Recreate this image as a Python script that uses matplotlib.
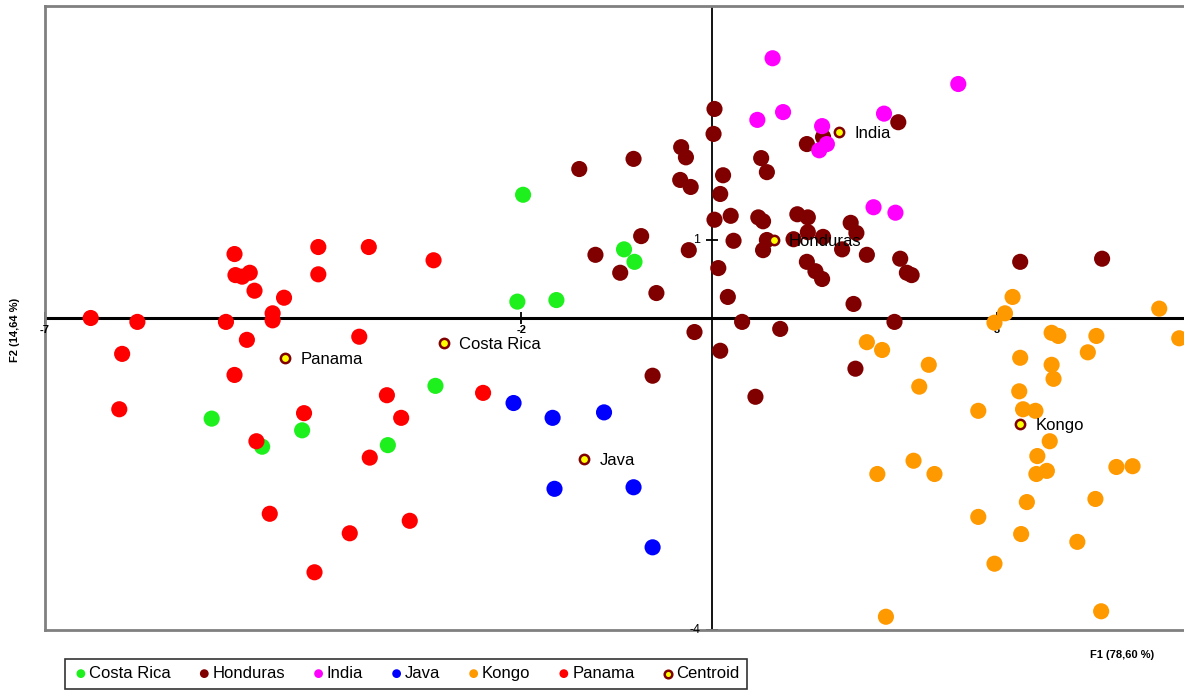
import numpy as np
import matplotlib
matplotlib.use("Agg")
import matplotlib.pyplot as plt

plt.rcParams['font.family'] = ['Liberation Sans', 'DejaVu Sans']

# observations per group (F1, F2)
costa_rica_x = [-5.25, -4.72, -4.30, -3.40, -2.90, -1.98, -2.04, -1.63, -0.92, -0.81]
costa_rica_y = [-1.29, -1.65, -1.44, -1.63, -0.87, 1.58, 0.21, 0.23, 0.88, 0.72]

honduras_x = [-1.39, -0.82, -0.32, -0.27, -0.33, -0.22, 0.12, 0.09, 0.20, 0.03,
              -0.74, 0.23, -1.22, -0.24, -0.96, 0.07, -0.58, 0.17, 0.32, -0.18,
              0.09, -0.62, 0.03, 0.02, 0.52, 0.58, 1.17, 1.00, 1.96, 0.49,
              0.54, 0.90, 1.01, 1.46, 1.52, 1.01, 1.17, 0.86, 0.58, 0.54,
              1.37, 1.63, 1.98, 2.05, 2.10, 1.00, 1.09, 1.16, 1.49, 1.92,
              0.72, 1.51, 0.46, 3.24, 4.10]
honduras_y = [1.91, 2.04, 2.19, 2.06, 1.77, 1.68, 1.83, 1.59, 1.31, 1.26,
              1.05, 0.99, 0.81, 0.87, 0.58, 0.64, 0.32, 0.27, -0.05, -0.18,
              -0.42, -0.74, 2.68, 2.36, 2.05, 1.87, 2.32, 2.23, 2.51, 1.29,
              1.24, 1.33, 1.29, 1.22, 1.09, 1.10, 1.04, 1.01, 1.00, 0.87,
              0.88, 0.81, 0.76, 0.58, 0.55, 0.72, 0.60, 0.50, 0.18, -0.05,
              -0.14, -0.65, -1.01, 0.72, 0.76]

india_x = [0.64, 2.59, 0.75, 0.48, 1.81, 1.16, 1.21, 1.13, 1.70, 1.93]
india_y = [3.33, 3.00, 2.64, 2.54, 2.62, 2.46, 2.23, 2.15, 1.42, 1.35]

java_x = [-2.08, -1.67, -1.13, -1.65, -0.82, -0.62]
java_y = [-1.09, -1.28, -1.21, -2.19, -2.17, -2.94]

kongo_x = [3.16, 4.70, 3.08, 2.97, 1.63, 1.79, 3.57, 3.64, 4.04, 4.91,
           3.24, 3.57, 3.95, 2.28, 3.59, 2.18, 3.23, 3.27, 3.40, 2.80,
           3.55, 3.42, 2.12, 1.74, 2.34, 3.41, 3.52, 4.25, 4.42, 3.31,
           4.03, 2.80, 3.25, 3.84, 2.97, 4.09, 1.83]
kongo_y = [0.27, 0.12, 0.06, -0.06, -0.31, -0.41, -0.19, -0.23, -0.23, -0.26,
           -0.51, -0.60, -0.44, -0.60, -0.78, -0.88, -0.94, -1.17, -1.19, -1.19,
           -1.58, -1.77, -1.83, -2.00, -2.00, -2.00, -1.96, -1.91, -1.90, -2.36,
           -2.32, -2.55, -2.77, -2.87, -3.15, -3.76, -3.83]

panama_x = [-5.01, -4.13, -3.60, -2.92, -5.00, -4.93, -4.85, -4.13, -4.80, -4.49,
            -6.52, -6.03, -5.10, -4.61, -4.61, -3.70, -4.88, -6.19, -5.01, -6.22,
            -4.28, -3.41, -3.26, -4.78, -3.59, -4.64, -3.80, -3.17, -4.17, -2.40]
panama_y = [0.82, 0.91, 0.91, 0.74, 0.55, 0.53, 0.58, 0.56, 0.35, 0.26,
            0.00, -0.05, -0.05, 0.06, -0.03, -0.24, -0.28, -0.46, -0.73, -1.17,
            -1.22, -0.99, -1.28, -1.58, -1.79, -2.51, -2.76, -2.60, -3.26, -0.96]

centroid_names = ["Costa Rica", "Honduras", "India", "Java", "Kongo", "Panama"]
centroid_x = [-2.81, 0.65, 1.34, -1.34, 3.24, -4.48]
centroid_y = [-0.32, 1.00, 2.38, -1.81, -1.36, -0.51]

x_ticks = [-7, -2, 3]
y_ticks = [1, -4]

groups = [
    ("Costa Rica", costa_rica_x, costa_rica_y, "#1ef01e"),
    ("Honduras", honduras_x, honduras_y, "#800000"),
    ("India", india_x, india_y, "#ff00ff"),
    ("Java", java_x, java_y, "#0000ff"),
    ("Kongo", kongo_x, kongo_y, "#ff9900"),
    ("Panama", panama_x, panama_y, "#ff0000"),
]

fig = plt.figure(figsize=(11.84, 6.92), dpi=100)
ax = fig.add_axes([45 / 1184, 62 / 692, 1139 / 1184, 624 / 692])
ax.set_xlim(-7, 4.96)
ax.set_ylim(-4, 4)

for s in ["left", "top", "bottom"]:
    ax.spines[s].set_color("#808080")
    ax.spines[s].set_linewidth(2)
ax.spines["right"].set_visible(False)
ax.set_xticks([])
ax.set_yticks([])

ax.axhline(0, color="black", lw=2.2, zorder=1)
ax.axvline(0, color="black", lw=1.3, zorder=1)

# ticks sit on the zero lines
ax.plot(x_ticks, [0] * len(x_ticks), ls="none", marker="|", ms=8, mew=1.3,
        color="black", clip_on=False, zorder=2)
ax.plot([0] * len(y_ticks), y_ticks, ls="none", marker="_", ms=9, mew=1.3,
        color="black", clip_on=False, zorder=2)
for t in x_ticks:
    ax.annotate(str(t), (t, 0), xytext=(0, -5), textcoords="offset points",
                ha="center", va="top", fontsize=8, fontweight="bold")
for t in y_ticks:
    ax.annotate(str(t), (0, t), xytext=(-8, 0), textcoords="offset points",
                ha="right", va="center", fontsize=9)

handles = []
for name, xs, ys, col in groups:
    h = ax.scatter(xs, ys, s=135, color=col, edgecolors="none", label=name, zorder=3)
    handles.append(h)

hc = ax.scatter(centroid_x, centroid_y, s=45, color="#ffff00", edgecolors="#800000",
                linewidths=1.8, label="Centroid", zorder=5)
handles.append(hc)
for n, cx, cy in zip(centroid_names, centroid_x, centroid_y):
    ax.annotate(n, (cx, cy), xytext=(11, -1), textcoords="offset points",
                ha="left", va="center", fontsize=12, zorder=6)

fig.text(15 / 1184, 1 - 330 / 692, "F2 (14,64 %)", rotation=90, ha="center",
         va="center", fontsize=8, fontweight="bold")
fig.text(1122 / 1184, 1 - 655 / 692, "F1 (78,60 %)", ha="center", va="center",
         fontsize=8, fontweight="bold")

leg = fig.legend(handles=handles, loc="center", ncol=7,
                 bbox_to_anchor=(406 / 1184, 1 - 673.5 / 692), fontsize=12,
                 frameon=True, fancybox=False, edgecolor="black",
                 handletextpad=0.0, columnspacing=1.5, handlelength=1.0,
                 borderpad=0.45, markerscale=0.45)
leg.get_frame().set_linewidth(1.2)
for lh in leg.legend_handles[:-1]:
    lh.set_sizes([40])
leg.legend_handles[-1].set_sizes([30])

fig.savefig("out.png", dpi=100)
